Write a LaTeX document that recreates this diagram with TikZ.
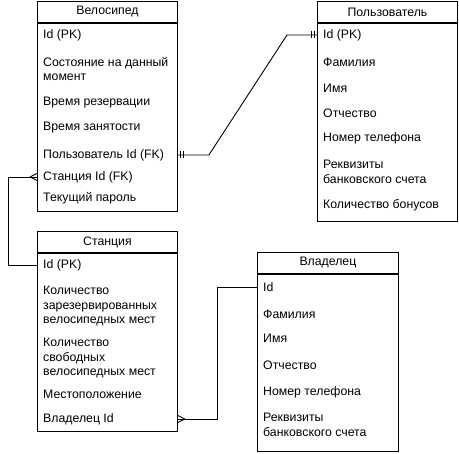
\documentclass[tikz,border=0pt]{standalone}
\usepackage{fontspec}
\setmainfont{Liberation Sans}
\usetikzlibrary{positioning}

\begin{document}
\begin{tikzpicture}
  [
   x=1pt,y=-1pt,
   font=\fontsize{12.3}{14.8}\selectfont,
   hd/.style={rectangle,draw,line width=0.9pt,inner sep=0pt,minimum height=21,anchor=north west},
   bd/.style={rectangle,draw,line width=0.9pt,inner sep=0pt},
   row/.style={anchor=west,inner sep=0pt,align=left},
   rel/.style={line width=0.9pt}
  ]
   \useasboundingbox (0,0) rectangle (459,454);

   % Velosiped
   \node[hd,minimum width=140] (v) at (37,1) {Велосипед};
   \node[bd,minimum width=140,minimum height=188] (vb) [below=0pt of v] {};
   \node[row] (v1) at (43,35)  {Id (PK)};
   \node[row] (v2) at (43,69)  {Состояние на данный\\момент};
   \node[row] (v3) at (43,103) {Время резервации};
   \node[row] (v4) at (43,128) {Время занятости};
   \node[row] (v5) at (43,155) {Пользователь Id (FK)};
   \node[row] (v6) at (43,177) {Станция Id (FK)};
   \node[row] (v7) at (43,198) {Текущий пароль};

   % Polzovatel
   \node[hd,minimum width=140] (p) at (317,1) {Пользователь};
   \node[bd,minimum width=140,minimum height=198] (pb) [below=0pt of p] {};
   \node[row] (p1) at (323,35)  {Id (PK)};
   \node[row] (p2) at (323,62)  {Фамилия};
   \node[row] (p3) at (323,88)  {Имя};
   \node[row] (p4) at (323,113) {Отчество};
   \node[row] (p5) at (323,138) {Номер телефона};
   \node[row] (p6) at (323,172) {Реквизиты\\банковского счета};
   \node[row] (p7) at (323,205) {Количество бонусов};

   % Stanciya
   \node[hd,minimum width=140] (s) at (37,231) {Станция};
   \node[bd,minimum width=140,minimum height=178] (sb) [below=0pt of s] {};
   \node[row] (s1) at (43,265) {Id (PK)};
   \node[row] (s2) at (43,306) {Количество\\зарезервированных\\велосипедных мест};
   \node[row] (s3) at (43,358) {Количество\\свободных\\велосипедных мест};
   \node[row] (s4) at (43,394) {Местоположение};
   \node[row] (s5) at (43,419) {Владелец Id};

   % Vladelec
   \node[hd,minimum width=141] (w) at (257,252) {Владелец};
   \node[bd,minimum width=141,minimum height=177] (wb) [below=0pt of w] {};
   \node[row] (w1) at (263,287) {Id};
   \node[row] (w2) at (263,314) {Фамилия};
   \node[row] (w3) at (263,338) {Имя};
   \node[row] (w4) at (263,365) {Отчество};
   \node[row] (w5) at (263,392) {Номер телефона};
   \node[row] (w6) at (263,425) {Реквизиты\\банковского счета};

   % relations
   \draw[rel] (vb.east |- v5) -- ++(31,0) -- ([xshift=-30pt]pb.west |- p1) -- (pb.west |- p1);
   \draw[rel] (vb.west |- v6) -- ++(-29,0) |- (sb.west |- s1);
   \draw[rel] (sb.east |- s5) -- ++(40,0) |- (wb.west |- w1);

   % one and only one
   \draw[rel] ([xshift=3pt]vb.east |- v5) ++(0,-3.5) -- ++(0,7) ++(3,0) -- ++(0,-7);
   \draw[rel] ([xshift=-3pt]pb.west |- p1) ++(0,-3.5) -- ++(0,7) ++(-3,0) -- ++(0,-7);
   % many
   \draw[rel] (vb.west |- v6) ++(-7,0) -- ++(7,-3.5) ++(-7,3.5) -- ++(7,3.5);
   \draw[rel] (sb.east |- s5) ++(7,0) -- ++(-7,-3.5) ++(7,3.5) -- ++(-7,3.5);

\end{tikzpicture}
\end{document}
